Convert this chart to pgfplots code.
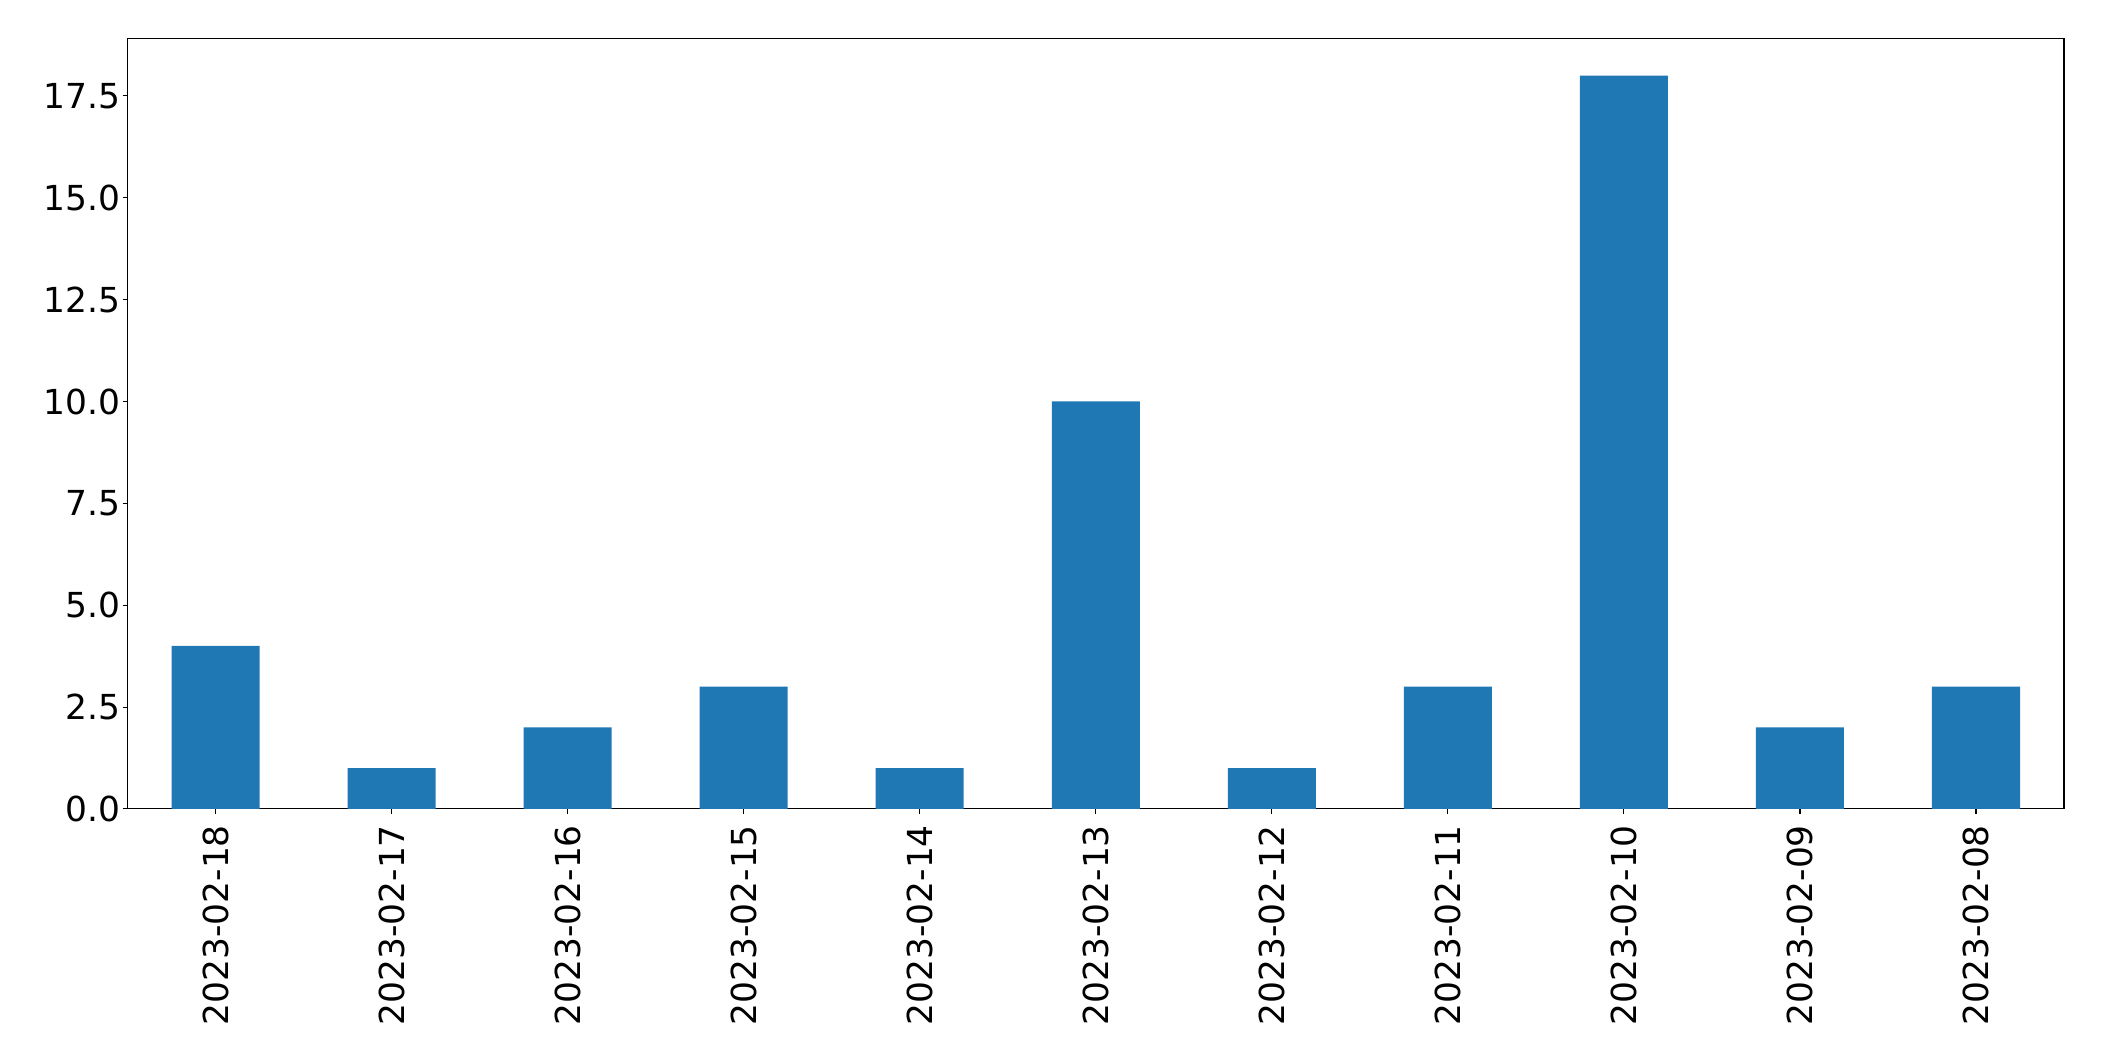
\documentclass[border=0pt]{standalone}
\usepackage{fontspec}
\setmainfont{DejaVu Sans}
\usepackage{pgfplots}
\pgfplotsset{compat=1.18}
\definecolor{mplblue}{HTML}{1F77B4}
\begin{document}
\begin{tikzpicture}
\path[use as bounding box] (-45.9pt,-90.7pt) rectangle (711.5pt,291.2pt);
\begin{axis}[
  scale only axis,
  width=697.1pt, height=277.2pt,
  xmin=-0.5, xmax=10.5, ymin=0, ymax=18.9,
  xtick={0,...,10},
  xticklabels={2023-02-18,2023-02-17,2023-02-16,2023-02-15,2023-02-14,2023-02-13,2023-02-12,2023-02-11,2023-02-10,2023-02-09,2023-02-08},
  x tick label style={rotate=90, anchor=east, font=\fontsize{12.4pt}{15pt}\selectfont, inner sep=0pt, outer sep=0pt, xshift=-4pt},
  ytick={0,2.5,...,17.5},
  y tick label style={font=\fontsize{12.4pt}{15pt}\selectfont, inner sep=0pt, xshift=-0.5pt},
  /pgf/number format/assume math mode=true,
  yticklabel style={/pgf/number format/fixed, /pgf/number format/fixed zerofill, /pgf/number format/precision=1},
  tick align=outside,
  xtick pos=bottom, ytick pos=left,
  major tick length=1.8pt,
  axis line style={line width=0.4pt},
  tick style={line width=0.4pt, black},
  ybar, bar width=0.5,
]
\addplot[fill=mplblue, draw=none] coordinates {(0,4) (1,1) (2,2) (3,3) (4,1) (5,10) (6,1) (7,3) (8,18) (9,2) (10,3)};
\end{axis}
\end{tikzpicture}
\end{document}
